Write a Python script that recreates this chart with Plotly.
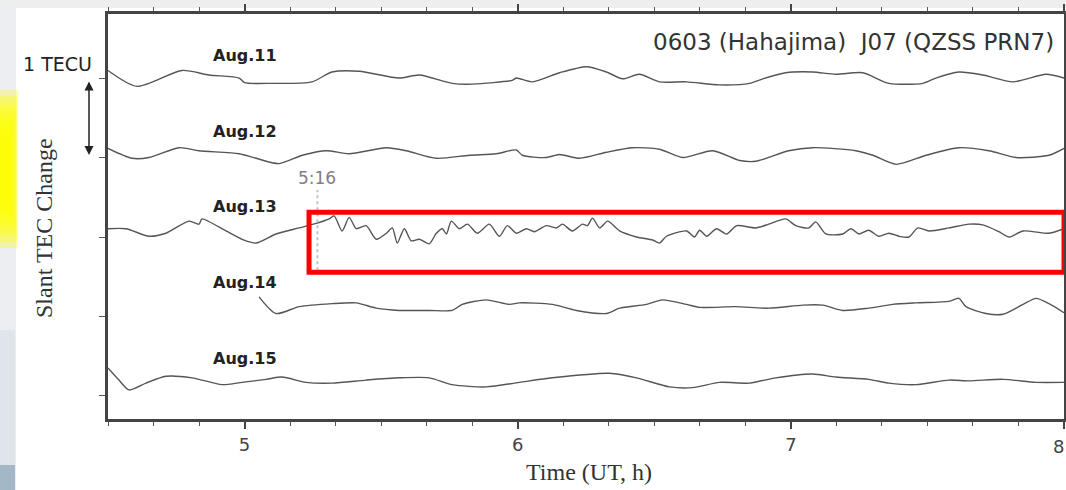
import plotly.graph_objects as go

# ---------------- data (time in UT hours, slant TEC change in TECU) ----------------
T11 = [4.50,4.606,4.771,4.87,4.98,5.00,5.10,5.247,5.32,5.42,5.566,5.64,5.76,5.834,5.98,5.995,6.054,6.153,6.252,6.325,
       6.384,6.446,6.519,6.618,6.739,6.849,6.897,6.981,7.08,7.165,7.263,7.359,7.483,7.531,7.615,7.703,7.813,7.934,8.0]
V11 = [0.10,-0.11,0.10,0.04,0.00,-0.06,-0.07,-0.05,0.08,0.09,0.00,0.04,-0.07,-0.08,-0.03,0.00,-0.05,0.07,0.15,0.08,
       -0.01,0.05,-0.05,-0.05,-0.09,-0.07,-0.01,0.07,0.08,0.05,0.07,-0.07,-0.07,0.00,0.08,0.04,-0.05,0.05,0.00]

T12 = [4.50,4.588,4.65,4.76,4.833,4.98,5.042,5.126,5.211,5.299,5.383,5.519,5.592,5.702,5.823,5.922,5.995,6.017,6.105,6.153,
       6.226,6.325,6.42,6.519,6.604,6.714,6.813,6.872,6.992,7.08,7.238,7.30,7.385,7.495,7.615,7.725,7.824,7.945,8.0]
V12 = [0.12,-0.01,0.00,0.13,0.09,0.05,-0.01,-0.08,0.03,0.09,0.05,0.13,0.09,-0.01,0.03,0.05,0.10,0.03,0.00,0.04,
       -0.01,0.07,0.13,0.11,0.00,0.09,-0.04,-0.05,0.09,0.13,0.09,0.03,-0.09,0.03,0.13,0.09,0.00,0.03,0.12]

T13 = [4.50,4.566,4.65,4.712,4.797,4.833,4.844,4.932,4.991,5.042,5.115,5.20,5.262,5.31,5.328,5.357,5.383,5.409,5.445,5.482,
       5.519,5.541,5.559,5.585,5.61,5.64,5.676,5.702,5.724,5.739,5.757,5.786,5.816,5.852,5.896,5.933,5.962,5.995,6.032,6.061,
       6.105,6.142,6.164,6.20,6.237,6.255,6.274,6.30,6.329,6.373,6.435,6.494,6.519,6.545,6.618,6.647,6.666,6.692,6.728,6.765,
       6.802,6.871,6.919,6.981,7.018,7.066,7.091,7.128,7.19,7.22,7.249,7.285,7.322,7.359,7.396,7.432,7.465,7.506,7.579,7.652,
       7.703,7.762,7.799,7.85,7.945,8.0]
V13 = [0.11,0.11,0.01,0.05,0.21,0.17,0.24,0.08,-0.03,-0.08,0.04,0.12,0.18,0.24,0.28,0.08,0.26,0.11,0.15,-0.03,
       0.05,0.12,-0.08,0.11,-0.05,-0.03,-0.09,0.05,0.11,0.04,0.21,0.11,0.17,0.05,0.17,0.01,0.15,0.05,0.11,0.07,
       0.15,0.12,0.17,0.08,0.17,0.15,0.25,0.12,0.21,0.08,0.00,-0.04,-0.08,0.01,0.08,0.00,0.09,0.01,0.11,0.04,
       0.15,0.12,0.17,0.24,0.15,0.12,0.20,0.04,0.04,0.11,0.04,0.09,0.01,0.05,0.01,0.00,0.12,0.08,0.12,0.17,
       0.16,0.07,0.00,0.08,0.05,0.11]

T14 = [5.053,5.115,5.20,5.32,5.409,5.482,5.566,5.676,5.76,5.797,5.885,5.97,6.006,6.127,6.215,6.325,6.373,6.472,6.53,6.618,
       6.666,6.798,6.919,7.044,7.117,7.19,7.285,7.373,7.458,7.579,7.615,7.641,7.714,7.777,7.85,7.898,7.945,8.0]
V14 = [0.26,0.04,0.13,0.17,0.18,0.11,0.08,0.08,0.08,0.16,0.22,0.16,0.18,0.16,0.08,0.04,0.11,0.16,0.22,0.16,
       0.12,0.13,0.11,0.15,0.15,0.08,0.11,0.16,0.18,0.20,0.24,0.13,0.04,0.03,0.16,0.24,0.17,0.05]

T15 = [4.50,4.54,4.577,4.639,4.712,4.808,4.918,4.991,5.079,5.137,5.225,5.32,5.445,5.566,5.676,5.76,5.885,6.006,6.127,6.336,
       6.435,6.556,6.64,6.739,6.849,6.945,7.08,7.165,7.285,7.359,7.458,7.579,7.652,7.777,7.898,8.0]
V15 = [0.37,0.21,0.08,0.17,0.26,0.24,0.15,0.18,0.22,0.25,0.18,0.17,0.21,0.24,0.24,0.15,0.12,0.18,0.24,0.30,
       0.24,0.12,0.11,0.18,0.17,0.24,0.29,0.25,0.22,0.17,0.15,0.21,0.20,0.22,0.18,0.18]

DAYS = ["Aug.11", "Aug.12", "Aug.13", "Aug.14", "Aug.15"]
SERIES = [(T11, V11), (T12, V12), (T13, V13), (T14, V14), (T15, V15)]
OFFSETS = [4.2, 3.15, 2.1, 1.05, 0.0]      # vertical stacking of the daily curves
LABEL_Y = [4.5, 3.5, 2.5, 1.5, 0.5]
X_TICKS = [5, 6, 7, 8]
EVENT_T = 5 + 16 / 60                       # 5:16 UT

SANS = "DejaVu Sans, Arial"
SERIF = "Liberation Serif, Times New Roman"

# ---------------- figure ----------------
fig = go.Figure()
for (t, v), off in zip(SERIES, OFFSETS):
    fig.add_trace(go.Scatter(
        x=t, y=[val + off for val in v], mode="lines",
        line=dict(color="#555555", width=1.4, shape="spline", smoothing=0.7),
        showlegend=False, hoverinfo="skip"))

W, H = 1066, 490
L, R, T, B = 108, 2, 14, 71
pw, ph = W - L - R, H - T - B
def px(xp):   # pixel x -> paper
    return (xp - L) / pw
def py(yp):   # pixel y -> paper
    return (H - B - yp) / ph

shapes = []
# slide background remnants
shapes.append(dict(type="rect", xref="paper", yref="paper", x0=px(0), x1=px(W), y0=py(0), y1=py(8),
                   fillcolor="#eeeeee", line_width=0, layer="below"))
shapes.append(dict(type="rect", xref="paper", yref="paper", x0=px(0), x1=px(16), y0=py(8), y1=py(H),
                   fillcolor="#eceef1", line_width=0, layer="below"))
shapes.append(dict(type="rect", xref="paper", yref="paper", x0=px(0), x1=px(15), y0=py(330), y1=py(465),
                   fillcolor="#dfe5ea", line_width=0, layer="below"))
for i in range(9):
    shapes.append(dict(type="rect", xref="paper", yref="paper", x0=px(0), x1=px(18 - i * 0.9),
                       y0=py(90 + i * 6), y1=py(248 - i * 6),
                       fillcolor="#ffff00", opacity=0.3, line_width=0, layer="below"))
shapes.append(dict(type="rect", xref="paper", yref="paper", x0=px(0), x1=px(15), y0=py(465), y1=py(H),
                   fillcolor="#a3b7c6", line_width=0, layer="below"))
# 5:16 marker
shapes.append(dict(type="line", xref="x", yref="y", x0=EVENT_T, x1=EVENT_T, y0=1.66, y1=2.72,
                   line=dict(color="#c4c4c4", width=2, dash="dot")))
# red highlight box
shapes.append(dict(type="rect", xref="x", yref="y", x0=5.236, x1=8.0, y0=1.634, y1=2.427,
                   line=dict(color="#ff0000", width=5)))

annotations = []
for d, ly in zip(DAYS, LABEL_Y):
    annotations.append(dict(x=5.0, y=ly, xref="x", yref="y", xanchor="center", yanchor="middle",
                            text="<b>" + d + "</b>", showarrow=False,
                            font=dict(family=SANS, size=16, color="#222")))
annotations.append(dict(x=px(1056), y=py(42), xref="paper", yref="paper", xanchor="right", yanchor="middle",
                        text="0603 (Hahajima)  J07 (QZSS PRN7)", showarrow=False,
                        font=dict(family=SANS, size=23, color="#333")))
annotations.append(dict(x=px(57), y=py(64), xref="paper", yref="paper", xanchor="center", yanchor="middle",
                        text="1 TECU", showarrow=False, font=dict(family=SANS, size=19, color="#222")))
annotations.append(dict(x=px(89), y=py(155), xref="paper", yref="paper", ax=0, ay=-75, axref="pixel", ayref="pixel",
                        text="", showarrow=True, arrowhead=2, arrowside="end+start", arrowsize=1.2,
                        arrowwidth=1.5, arrowcolor="#222"))
annotations.append(dict(x=EVENT_T, y=py(178), xref="x", yref="paper", xanchor="center", yanchor="middle",
                        text="5:16", showarrow=False, font=dict(family=SANS, size=17, color="#808080")))
annotations.append(dict(x=px(44), y=py(228), xref="paper", yref="paper", xanchor="center", yanchor="middle",
                        text="Slant TEC Change", textangle=-90,
                        showarrow=False, font=dict(family=SERIF, size=24, color="#333")))
annotations.append(dict(x=px(589), y=py(472), xref="paper", yref="paper", xanchor="center", yanchor="middle",
                        text="Time (UT, h)", showarrow=False, font=dict(family=SERIF, size=24, color="#333")))
# last tick label sits at the very right edge of the image; anchor it inside
annotations.append(dict(x=px(1066), y=py(446), xref="paper", yref="paper", xanchor="right", yanchor="middle",
                        text=str(X_TICKS[-1]), showarrow=False, font=dict(family=SANS, size=18, color="#444")))

fig.update_layout(
    width=W, height=H, margin=dict(l=L, r=R, t=T, b=B, autoexpand=False),
    paper_bgcolor="white", plot_bgcolor="white",
    shapes=shapes, annotations=annotations,
    xaxis=dict(range=[4.5, 8.0], tickvals=X_TICKS, ticktext=[str(v) for v in X_TICKS[:-1]] + [""],
               ticks="outside", ticklen=7, tickwidth=1.5, tickcolor="#444",
               minor=dict(dtick=1/6, tick0=5, ticks="outside", ticklen=4, tickwidth=1.2, tickcolor="#555"),
               showline=True, linecolor="#444", linewidth=3, mirror="allticks",
               showgrid=False, zeroline=False,
               tickfont=dict(family=SANS, size=18, color="#444")),
    yaxis=dict(range=[-0.304, 5.046], tickvals=OFFSETS, showticklabels=False,
               ticks="outside", ticklen=6, tickwidth=1.2, tickcolor="#555",
               showline=True, linecolor="#444", linewidth=2.5, mirror=True,
               showgrid=False, zeroline=False),
)

fig.write_html("out.html", config={"displayModeBar": False},
               post_script="document.body.style.margin='0';")
